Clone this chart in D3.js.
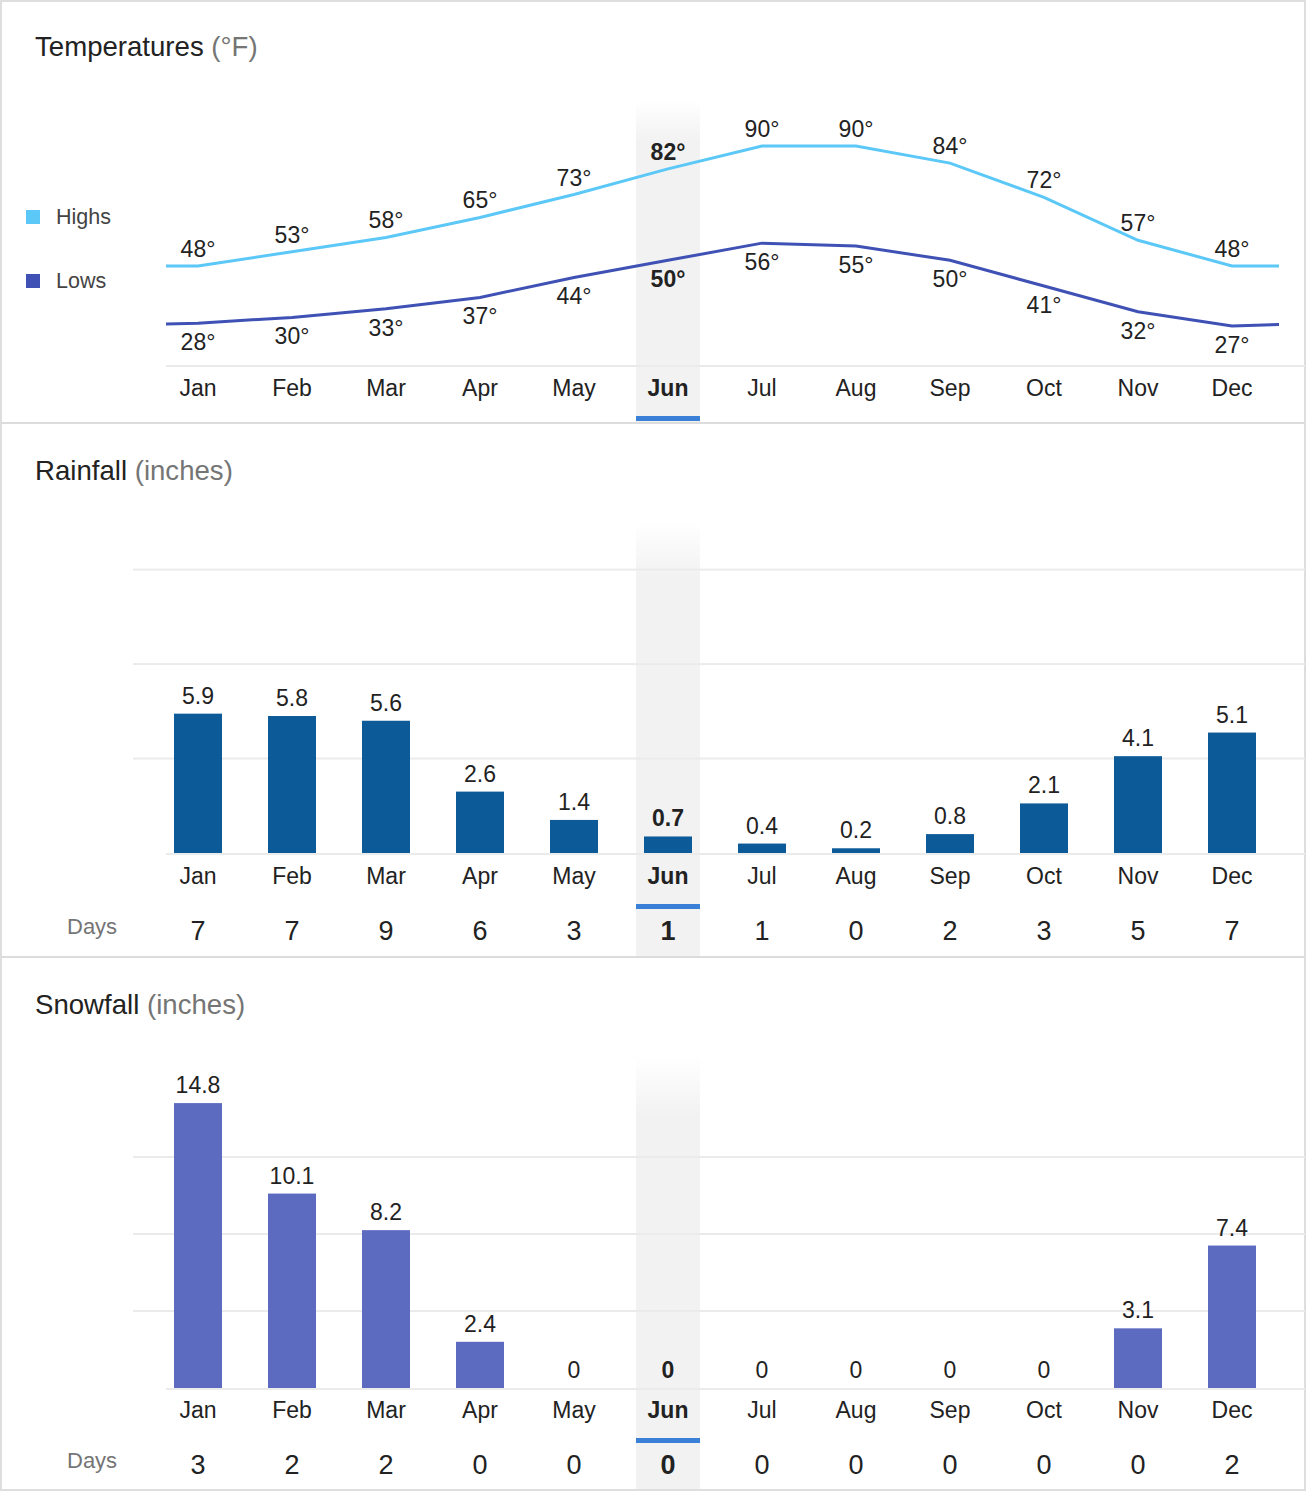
<!DOCTYPE html>
<html>
<head>
<meta charset="utf-8">
<script src="https://cdn.jsdelivr.net/npm/d3@7"></script>
<style>
  html, body { margin: 0; padding: 0; background: #fff; }
  svg { display: block; font-family: "Liberation Sans", Arial, Helvetica, sans-serif; }
</style>
</head>
<body>
<svg id="chart" width="1308" height="1492"></svg>
<script>
// ---- data ----
const months = ["Jan","Feb","Mar","Apr","May","Jun","Jul","Aug","Sep","Oct","Nov","Dec"];
const highs = [48, 53, 58, 65, 73, 82, 90, 90, 84, 72, 57, 48];
const lows  = [28, 30, 33, 37, 44, 50, 56, 55, 50, 41, 32, 27];
const rainfall = [5.9, 5.8, 5.6, 2.6, 1.4, 0.7, 0.4, 0.2, 0.8, 2.1, 4.1, 5.1];
const rainDays = [7, 7, 9, 6, 3, 1, 1, 0, 2, 3, 5, 7];
const snowfall = [14.8, 10.1, 8.2, 2.4, 0, 0, 0, 0, 0, 0, 3.1, 7.4];
const snowDays = [3, 2, 2, 0, 0, 0, 0, 0, 0, 0, 0, 2];
const gridTicks = [4, 8, 12];
const highlightMonth = "Jun";

// ---- setup ----
const W = 1308, H = 1492;
const svg = d3.select("#chart");
const x = d3.scaleBand().domain(months).range([151, 1279]);
const cx = m => x(m) + x.bandwidth() / 2;
const TEXT = "#222", MUTED = "#757575";
const HI_COL = "#5bc8f7", LO_COL = "#3f51b5", RAIN_COL = "#0d5a98", SNOW_COL = "#5c6bc0";
const SEL_COL = "#3a80d6";

const defs = svg.append("defs");
const grad = defs.append("linearGradient").attr("id", "fade").attr("x1", 0).attr("x2", 0).attr("y1", 0).attr("y2", 1);
grad.append("stop").attr("offset", 0).attr("stop-color", "#f2f2f2").attr("stop-opacity", 0);
grad.append("stop").attr("offset", 1).attr("stop-color", "#f2f2f2").attr("stop-opacity", 1);

// outer frame
svg.append("rect").attr("x", 1).attr("y", 1).attr("width", W - 4).attr("height", H - 3)
  .attr("fill", "#fff").attr("stroke", "#dedede").attr("stroke-width", 2);

function title(y, main, unit) {
  const t = svg.append("text").attr("x", 35).attr("y", y).attr("font-size", 27.6).attr("fill", TEXT);
  t.append("tspan").text(main);
  t.append("tspan").attr("fill", MUTED).text(" " + unit);
}

function highlight(top, bottom, fadeH) {
  const hx = cx(highlightMonth) - 32;
  svg.append("rect").attr("x", hx).attr("y", top).attr("width", 64).attr("height", fadeH).attr("fill", "url(#fade)");
  svg.append("rect").attr("x", hx).attr("y", top + fadeH).attr("width", 64).attr("height", bottom - top - fadeH).attr("fill", "#f2f2f2");
}

function monthRow(y, selY) {
  svg.append("g").selectAll("text").data(months).join("text")
    .attr("x", d => cx(d)).attr("y", y).attr("text-anchor", "middle")
    .attr("font-size", 23).attr("fill", TEXT)
    .attr("font-weight", d => d === highlightMonth ? "bold" : "normal")
    .text(d => d);
  svg.append("rect").attr("x", cx(highlightMonth) - 32).attr("y", selY).attr("width", 64).attr("height", 5).attr("fill", SEL_COL);
}

function divider(y) {
  svg.append("rect").attr("x", 2).attr("y", y).attr("width", W - 5).attr("height", 2).attr("fill", "#dcdcdc");
}

function daysRow(y, vals) {
  svg.append("text").attr("x", 67).attr("y", y - 6).attr("font-size", 22).attr("fill", MUTED).text("Days");
  svg.append("g").selectAll("text").data(vals).join("text")
    .attr("x", (d, i) => cx(months[i])).attr("y", y).attr("text-anchor", "middle")
    .attr("font-size", 27).attr("fill", TEXT)
    .attr("font-weight", (d, i) => months[i] === highlightMonth ? "bold" : "normal")
    .text(d => d);
}

// ================= Temperatures =================
title(56, "Temperatures", "(°F)");
highlight(100, 422, 42);

const yT = d3.scaleLinear().domain([20, 100]).range([346, 117.4]);
svg.append("rect").attr("x", 166).attr("y", 365).attr("width", 1305 - 166).attr("height", 2).attr("fill", "#ebebeb");

defs.append("clipPath").attr("id", "tclip").append("rect")
  .attr("x", 166).attr("y", 80).attr("width", 1279 - 166).attr("height", 300);

const step = x.step();
function wrapPts(arr) {
  const pts = arr.map((v, i) => [cx(months[i]), yT(v)]);
  pts.unshift([cx(months[0]) - step, yT(arr[arr.length - 1])]);
  pts.push([cx(months[11]) + step, yT(arr[0])]);
  return pts;
}
const line = d3.line();
const lg = svg.append("g").attr("clip-path", "url(#tclip)");
lg.append("path").attr("d", line(wrapPts(lows))).attr("fill", "none").attr("stroke", LO_COL).attr("stroke-width", 3);
lg.append("path").attr("d", line(wrapPts(highs))).attr("fill", "none").attr("stroke", HI_COL).attr("stroke-width", 3);

svg.append("g").selectAll("text").data(highs).join("text")
  .attr("x", (d, i) => cx(months[i])).attr("y", d => yT(d) - 9).attr("text-anchor", "middle")
  .attr("font-size", 23).attr("fill", TEXT)
  .attr("font-weight", (d, i) => months[i] === highlightMonth ? "bold" : "normal")
  .text(d => d + "°");
svg.append("g").selectAll("text").data(lows).join("text")
  .attr("x", (d, i) => cx(months[i])).attr("y", d => yT(d) + 27).attr("text-anchor", "middle")
  .attr("font-size", 23).attr("fill", TEXT)
  .attr("font-weight", (d, i) => months[i] === highlightMonth ? "bold" : "normal")
  .text(d => d + "°");

// legend
const legend = [{ name: "Highs", color: HI_COL, y: 210 }, { name: "Lows", color: LO_COL, y: 274 }];
legend.forEach(l => {
  svg.append("rect").attr("x", 26).attr("y", l.y).attr("width", 14).attr("height", 14).attr("fill", l.color);
  svg.append("text").attr("x", 56).attr("y", l.y + 14).attr("font-size", 21.5).attr("fill", "#444").text(l.name);
});

monthRow(396, 416);
divider(422);

// ================= Bar sections =================
function barSection(opts) {
  const { titleY, titleMain, top, bottom, fadeH, base, gridTop, values, days, color, monthY, selY, daysY, dividerY } = opts;
  title(titleY, titleMain, "(inches)");
  highlight(top, bottom, fadeH);
  const y = d3.scaleLinear().domain([0, 12]).range([base, gridTop]);
  svg.append("g").selectAll("rect").data(gridTicks).join("rect")
    .attr("x", 133).attr("y", d => y(d) - 1).attr("width", 1305 - 133).attr("height", 2).attr("fill", "#ebebeb");
  svg.append("rect").attr("x", 166).attr("y", base).attr("width", 1305 - 166).attr("height", 2).attr("fill", "#ebebeb");
  svg.append("g").selectAll("rect").data(values).join("rect")
    .attr("x", (d, i) => cx(months[i]) - 24).attr("width", 48)
    .attr("y", d => y(d)).attr("height", d => base - y(d)).attr("fill", color);
  svg.append("g").selectAll("text").data(values).join("text")
    .attr("x", (d, i) => cx(months[i])).attr("y", d => y(d) - 10).attr("text-anchor", "middle")
    .attr("font-size", 23).attr("fill", TEXT)
    .attr("font-weight", (d, i) => months[i] === highlightMonth ? "bold" : "normal")
    .text(d => d);
  monthRow(monthY, selY);
  daysRow(daysY, days);
  if (dividerY) divider(dividerY);
}

barSection({
  titleY: 480, titleMain: "Rainfall", top: 522, bottom: 956, fadeH: 55,
  base: 853, gridTop: 569.6, values: rainfall, days: rainDays, color: RAIN_COL,
  monthY: 884, selY: 904, daysY: 940, dividerY: 956
});
barSection({
  titleY: 1014, titleMain: "Snowfall", top: 1056, bottom: 1489, fadeH: 60,
  base: 1388, gridTop: 1157, values: snowfall, days: snowDays, color: SNOW_COL,
  monthY: 1418, selY: 1438, daysY: 1474, dividerY: null
});
</script>
</body>
</html>
